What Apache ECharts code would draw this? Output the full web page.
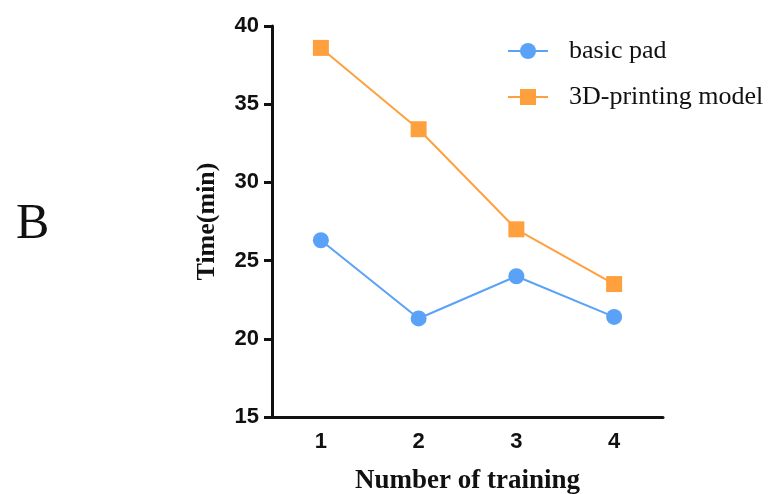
<!DOCTYPE html>
<html><head><meta charset="utf-8">
<script src="https://cdn.jsdelivr.net/npm/echarts@6/dist/echarts.min.js"></script>
<style>html,body{margin:0;padding:0;background:#fff}#c{width:773px;height:494px}</style>
</head><body><div id="c"></div>
<script>
const categories = ['1', '2', '3', '4'];
const basicPad = [26.3, 21.3, 24.0, 21.4];
const printingModel = [38.6, 33.4, 27.0, 23.5];
const yTicks = [15, 20, 25, 30, 35, 40];

const chart = echarts.init(document.getElementById('c'));
chart.setOption({
  animation: false,
  graphic: [{
    type: 'text', left: 16, top: 200,
    style: { text: 'B', font: '50px "Liberation Serif", serif', fill: '#111' }
  }],
  legend: {
    left: 502, top: 33, orient: 'vertical', itemGap: 20,
    itemWidth: 40, itemHeight: 20,
    textStyle: { fontFamily: '"Liberation Serif", serif', fontSize: 26, color: '#111', padding: [0, 0, 0, 16] },
    data: ['basic pad', '3D-printing model']
  },
  grid: { left: 272, top: 26, width: 391, height: 391, containLabel: false, outerBoundsMode: 'none' },
  xAxis: {
    type: 'category', data: categories, boundaryGap: true,
    name: 'Number of training', nameLocation: 'middle', nameGap: 51,
    nameTextStyle: { fontFamily: '"Liberation Serif", serif', fontWeight: 'bold', fontSize: 27, color: '#111' },
    axisLine: { lineStyle: { color: '#111', width: 3 } },
    axisTick: { alignWithLabel: true, inside: true, length: 6, lineStyle: { color: '#111', width: 3 } },
    axisLabel: { fontFamily: '"Liberation Sans", Arial, sans-serif', fontWeight: 'bold', fontSize: 22, color: '#111', margin: 14 }
  },
  yAxis: {
    type: 'value', min: yTicks[0], max: yTicks[yTicks.length - 1], interval: 5,
    name: 'Time(min)', nameLocation: 'middle', nameGap: 52, nameRotate: 90,
    nameTextStyle: { fontFamily: '"Liberation Serif", serif', fontWeight: 'bold', fontSize: 26, color: '#111' },
    splitLine: { show: false },
    axisLine: { show: true, lineStyle: { color: '#111', width: 3 } },
    axisTick: { show: true, length: 8, lineStyle: { color: '#111', width: 3 } },
    axisLabel: { fontFamily: '"Liberation Sans", Arial, sans-serif', fontWeight: 'bold', fontSize: 22, color: '#111', margin: 13 }
  },
  series: [
    {
      name: 'basic pad', type: 'line', data: basicPad,
      symbol: 'circle', symbolSize: 16,
      itemStyle: { color: '#5aa2f7' }, lineStyle: { color: '#5aa2f7', width: 2 }
    },
    {
      name: '3D-printing model', type: 'line', data: printingModel,
      symbol: 'rect', symbolSize: 16,
      itemStyle: { color: '#ffa03f' }, lineStyle: { color: '#ffa03f', width: 2 }
    }
  ]
});
</script></body></html>
